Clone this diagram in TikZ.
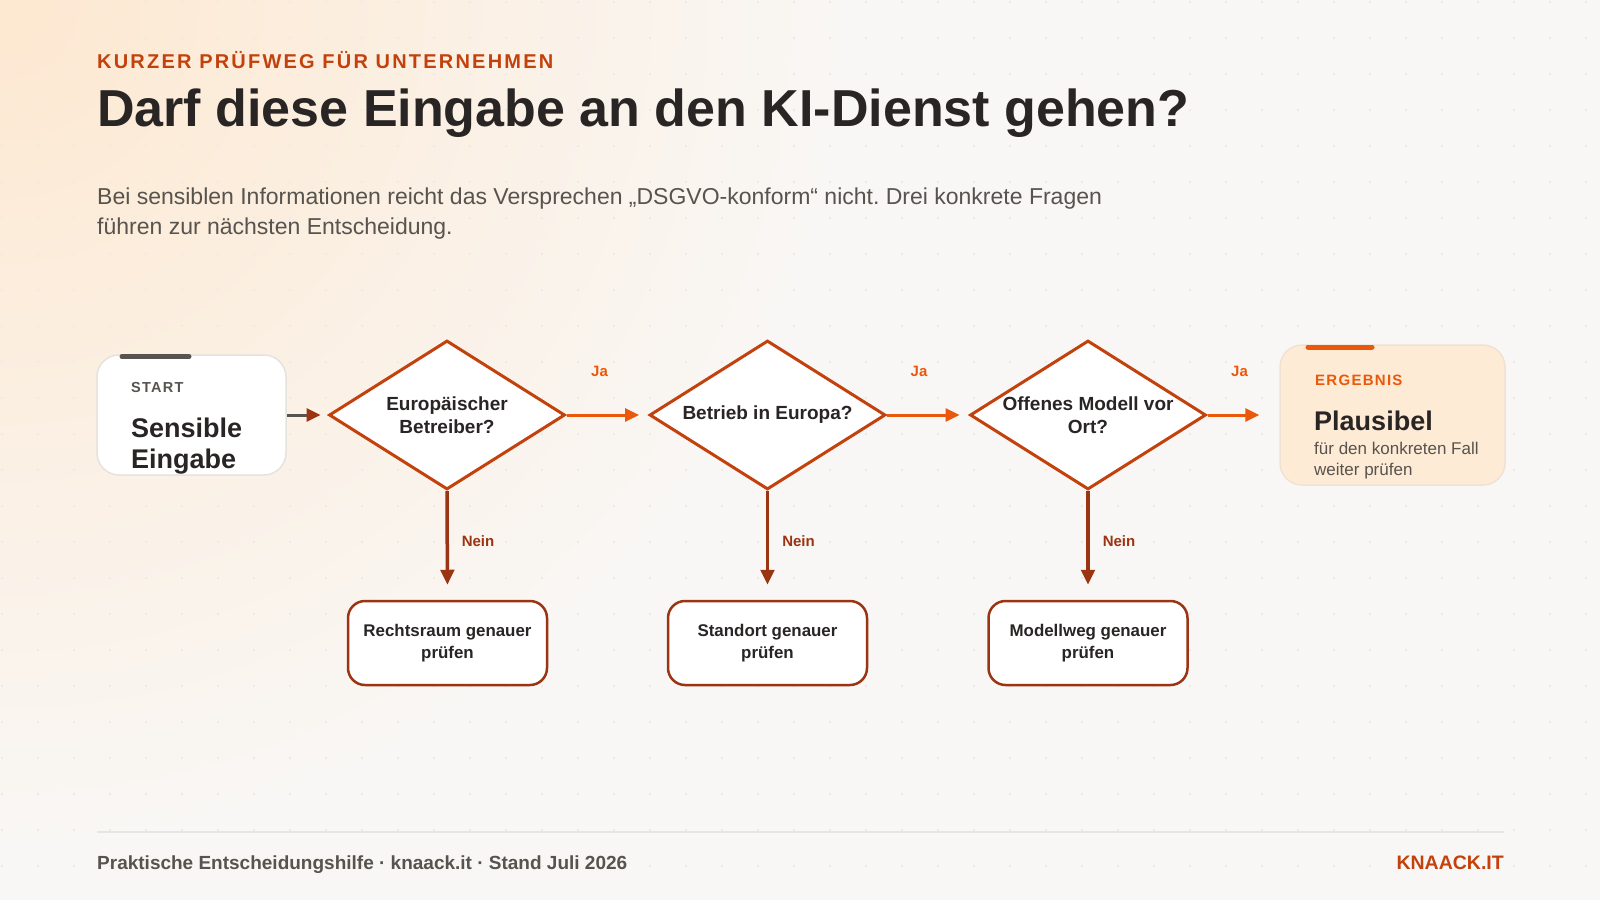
\documentclass[tikz,border=0pt]{standalone}
\usepackage{fontspec}
\setmainfont{Liberation Sans}
\newfontfamily\trackfont[LetterSpace=11]{Liberation Sans}
\newfontfamily\trackwide[LetterSpace=8.5]{Liberation Sans}
\usetikzlibrary{shapes.geometric,arrows.meta}
\frenchspacing
\definecolor{bg}{HTML}{F9F7F5}
\definecolor{glow}{HTML}{FDE8D0}
\definecolor{dotc}{HTML}{EEEAE6}
\definecolor{accent}{HTML}{EA580C}
\definecolor{accentdk}{HTML}{C2410C}
\definecolor{nein}{HTML}{9A3412}
\definecolor{ink}{HTML}{292524}
\definecolor{muted}{HTML}{57534E}
\definecolor{cardline}{HTML}{E6E2DE}
\definecolor{peach}{HTML}{FEEBD5}
\definecolor{peachline}{HTML}{EFE2D5}
\definecolor{rulec}{HTML}{E7E5E4}
\tikzset{
  txt/.style={anchor=base west, inner sep=0pt},
  decision/.style={diamond, draw=accentdk, line width=3pt, fill=white,
    minimum width=236pt, minimum height=149pt, inner sep=0pt, aspect=1.58,
    align=center, text=ink, font=\bfseries\fontsize{19}{23.5}\selectfont},
  card/.style={rectangle, rounded corners=22pt, line width=1.5pt},
  outcome/.style={rectangle, rounded corners=17pt, draw=nein, line width=2.5pt,
    fill=white, minimum width=199pt, minimum height=84pt, inner sep=0pt,
    align=center, text=ink, font=\bfseries\fontsize{16.9}{21.5}\selectfont},
  jaarrow/.style={draw=accent, line width=3pt, -{Triangle[length=14pt,width=13pt]}},
  neinarrow/.style={draw=nein, line width=3.5pt, -{Triangle[length=15pt,width=13.5pt]}, shorten >=15pt},
  jalabel/.style={text=accent, font=\bfseries\fontsize{15}{18}\selectfont, inner sep=0pt},
  neinlabel/.style={text=nein, font=\bfseries\fontsize{15}{18}\selectfont, inner sep=0pt},
  tag/.style={txt, font=\trackwide\bfseries\fontsize{14.5}{17}\selectfont},
  big/.style={txt, text=ink, font=\bfseries\fontsize{27}{31}\selectfont},
}
\begin{document}
\begin{tikzpicture}[x=1pt,y=-1pt]
\useasboundingbox (0,0) rectangle (1600,900);
\begin{scope}
  \clip (0,0) rectangle (1600,900);
  \fill[bg] (0,0) rectangle (1600,900);
  \shade[inner color=glow, outer color=bg] (0,0) circle[radius=850pt];
  \foreach \i in {0,...,44}{\foreach \j in {0,...,24}{
    \fill[dotc] (2+36*\i,2+36*\j) circle[radius=1.3pt];}}
\end{scope}

% header
\node[txt, text=accentdk, font=\trackfont\bfseries\fontsize{20}{24}\selectfont] (kicker) at (97,68) {KURZER PRÜFWEG FÜR UNTERNEHMEN};
\node[txt, text=ink, font=\bfseries\fontsize{52}{60}\selectfont] (title) at (97,126.5) {Darf diese Eingabe an den KI-Dienst gehen?};
\node[txt, text=muted, font=\fontsize{23}{30}\selectfont] (sub1) at (97,204) {Bei sensiblen Informationen reicht das Versprechen „DSGVO-konform“ nicht. Drei konkrete Fragen};
\node[txt, text=muted, font=\fontsize{23}{30}\selectfont] (sub2) at (97,234) {führen zur nächsten Entscheidung.};

% start card
\node[card, draw=cardline, fill=white, minimum width=189pt, minimum height=120pt] (start) at (191.5,415) {};
\draw[muted, line width=5pt, line cap=round] (122,356.5) -- (189,356.5);
\node[tag, text=muted] (starttag) at (131,392.8) {START};
\node[big] (sens1) at (131,437.5) {Sensible};
\node[big] (sens2) at (131,468) {Eingabe};

% decisions
\node[decision] (d1) at (447,415) {Europäischer\\Betreiber?};
\node[decision] (d2) at (767.5,415) {Betrieb in Europa?};
\node[decision] (d3) at (1088,415) {Offenes Modell vor\\Ort?};

% result card
\node[card, draw=peachline, fill=peach, minimum width=225pt, minimum height=140pt] (res) at (1392.5,415) {};
\draw[accent, line width=5pt, line cap=round] (1308,347) -- (1372,347);
\node[tag, text=accent, font=\trackwide\bfseries\fontsize{15}{18}\selectfont] (restag) at (1315,385.5) {ERGEBNIS};
\node[big] (resbig) at (1314,430) {Plausibel};
\node[txt, text=muted, font=\fontsize{17}{21.5}\selectfont] (ressub1) at (1314,454) {für den konkreten Fall};
\node[txt, text=muted, font=\fontsize{17}{21.5}\selectfont] (ressub2) at (1314,475.5) {weiter prüfen};

% outcomes
\node[outcome] (o1) at (447.5,643) {Rechtsraum genauer\\prüfen};
\node[outcome] (o2) at (767.5,643) {Standort genauer\\prüfen};
\node[outcome] (o3) at (1088,643) {Modellweg genauer\\prüfen};

% connectors
\draw[muted, line width=3pt, -{Triangle[length=14pt,width=13pt,color=nein]}, shorten >=7pt] (start.east) -- (d1.west);
\draw[jaarrow, shorten >=9pt] (d1.east) -- node[jalabel, pos=0, xshift=33pt, yshift=44pt] {Ja} (d2.west);
\draw[jaarrow, shorten >=9pt] (d2.east) -- node[jalabel, pos=0, xshift=32pt, yshift=44pt] {Ja} (d3.west);
\draw[jaarrow, shorten >=20pt] (d3.east) -- node[jalabel, pos=0, xshift=32pt, yshift=44pt] {Ja} (res.west);
\draw[neinarrow] (d1.south) -- node[neinlabel, pos=0, xshift=31pt, yshift=-50pt] {Nein} (o1.north);
\draw[neinarrow] (d2.south) -- node[neinlabel, pos=0, xshift=31pt, yshift=-50pt] {Nein} (o2.north);
\draw[neinarrow] (d3.south) -- node[neinlabel, pos=0, xshift=31pt, yshift=-50pt] {Nein} (o3.north);

% footer
\draw[rulec, line width=2pt] (97,832) -- (1504,832);
\node[txt, text=muted, font=\bfseries\fontsize{19}{23}\selectfont] (foot) at (97,869) {Praktische Entscheidungshilfe · knaack.it · Stand Juli 2026};
\node[anchor=base east, inner sep=0pt, text=accentdk, font=\bfseries\fontsize{19.5}{23}\selectfont] (brand) at (1504,869) {KNAACK.IT};
\end{tikzpicture}
\end{document}
